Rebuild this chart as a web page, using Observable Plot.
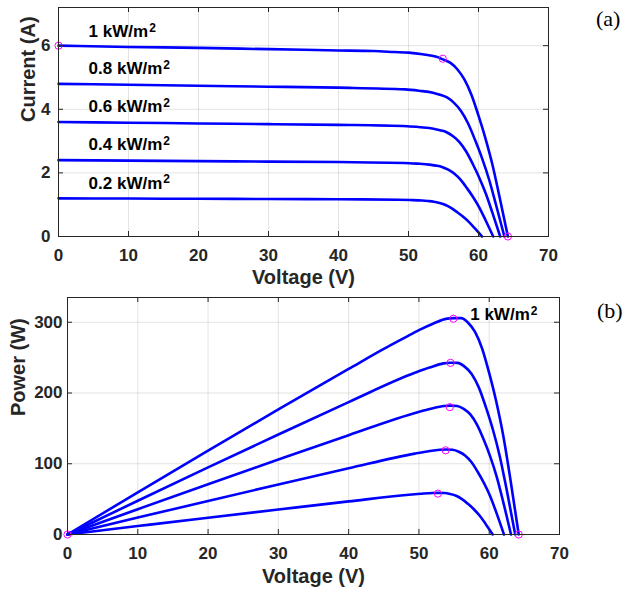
<!DOCTYPE html>
<html>
<head>
<meta charset="utf-8">
<script src="https://cdn.jsdelivr.net/npm/d3@7"></script>
<script src="https://cdn.jsdelivr.net/npm/@observablehq/plot@0.6"></script>
<style>
  body { margin: 0; background: #fff; }
  #wrap { position: relative; width: 641px; height: 597px; overflow: hidden; background: #fff; }
  #pa, #pb { position: absolute; left: 0; }
  #pa { top: 0; }
  #pb { top: 290px; }
  .tag { position: absolute; font-family: "Liberation Serif", "Times New Roman", serif; font-size: 22px; line-height: 1; color: #000; }
</style>
</head>
<body>
<div id="wrap">
  <div id="pa"></div>
  <div id="pb"></div>
  <div class="tag" style="left:596px; top:8px;">(a)</div>
  <div class="tag" style="left:597px; top:300px;">(b)</div>
</div>
<script>
// ---- data ----
const seriesNames = ["1 kW/m2", "0.8 kW/m2", "0.6 kW/m2", "0.4 kW/m2", "0.2 kW/m2"];

const v1000 = [0, 10, 20, 30, 40, 45, 48, 50, 52, 54, 55, 56, 57, 58, 59, 60, 61, 62, 63, 64.2];
const i1000 = [6.00, 5.96, 5.93, 5.89, 5.85, 5.83, 5.80, 5.78, 5.73, 5.65, 5.56, 5.46, 5.25, 4.93, 4.45, 3.80, 3.08, 2.25, 1.25, 0];
const p1000 = [0, 59.6, 118.6, 176.7, 234.0, 262.4, 278.4, 289.0, 298.0, 305.1, 305.8, 305.8, 299.3, 285.9, 262.6, 228.0, 187.9, 139.5, 78.8, 0];

const v800 = [0, 10, 20, 30, 40, 49.5, 51.5, 53.5, 54.5, 55.5, 56.5, 57.5, 58.5, 59.5, 60.5, 61.5, 62.5, 63.7];
const i800 = [4.80, 4.77, 4.74, 4.71, 4.68, 4.625, 4.583, 4.521, 4.455, 4.371, 4.200, 3.947, 3.560, 3.039, 2.465, 1.800, 0.999, 0];
const p800 = [0, 47.7, 94.8, 141.3, 187.2, 228.9, 236.0, 241.9, 242.8, 242.6, 237.3, 227.0, 208.3, 180.8, 149.1, 110.7, 62.4, 0];

const v600 = [0, 10, 20, 30, 40, 49.83, 51.70, 53.57, 54.50, 55.44, 56.37, 57.31, 58.24, 59.18, 60.11, 61.04, 61.98, 63.1];
const i600 = [3.60, 3.578, 3.555, 3.533, 3.511, 3.468, 3.437, 3.390, 3.342, 3.278, 3.150, 2.961, 2.671, 2.280, 1.850, 1.351, 0.751, 0];
const p600 = [0, 35.8, 71.1, 106.0, 140.4, 172.8, 177.7, 181.6, 182.1, 181.7, 177.6, 169.7, 155.6, 134.9, 111.2, 82.5, 46.5, 0];

const v400 = [0, 10, 20, 30, 40, 49.42, 51.21, 52.99, 53.89, 54.78, 55.67, 56.56, 57.46, 58.35, 59.24, 60.14, 61.03, 62.1];
const i400 = [2.40, 2.385, 2.370, 2.355, 2.340, 2.313, 2.292, 2.261, 2.229, 2.186, 2.101, 1.975, 1.782, 1.521, 1.234, 0.902, 0.502, 0];
const p400 = [0, 23.9, 47.4, 70.7, 93.6, 114.3, 117.4, 119.8, 120.1, 119.7, 117.0, 111.7, 102.4, 88.7, 73.1, 54.2, 30.6, 0];

const v200 = [0, 10, 20, 30, 40, 48.57, 50.25, 51.93, 52.77, 53.61, 54.45, 55.29, 56.13, 56.97, 57.81, 58.65, 59.49, 60.5];
const i200 = [1.20, 1.193, 1.185, 1.178, 1.170, 1.157, 1.147, 1.131, 1.115, 1.094, 1.051, 0.989, 0.892, 0.762, 0.618, 0.452, 0.252, 0];
const p200 = [0, 11.9, 23.7, 35.3, 46.8, 56.2, 57.6, 58.7, 58.8, 58.6, 57.2, 54.7, 50.1, 43.4, 35.7, 26.5, 15.0, 0];

// highlighted points (magenta circles)
const markAV = [0, 54.9, 64.2];
const markAI = [6.0, 5.59, 0];
const markBV = [0, 54.9, 54.5, 54.4, 53.8, 52.7, 64.2];
const markBP = [0, 305, 242.6, 180, 119, 57.8, 0];

// curve labels (data coordinates)
const labelAV = [4.3, 4.3, 4.3, 4.3, 4.3];
const labelAI = [6.45, 5.28, 4.08, 2.88, 1.68];
const labelBText = ["1 kW/m2"];
const labelBV = [57.3];
const labelBP = [311.5];

const xTicks = [0, 10, 20, 30, 40, 50, 60, 70];
const yTicksA = [0, 2, 4, 6];
const yTicksB = [0, 100, 200, 300];

// ---- tables ----
const vs = [v1000, v800, v600, v400, v200];
const is = [i1000, i800, i600, i400, i200];
const ps = [p1000, p800, p600, p400, p200];
const ivRows = [], pvRows = [];
seriesNames.forEach((s, k) => {
  vs[k].forEach((v, j) => {
    ivRows.push({series: s, V: v, I: is[k][j]});
    pvRows.push({series: s, V: v, P: ps[k][j]});
  });
});
const markA = markAV.map((v, j) => ({V: v, I: markAI[j]}));
const markB = markBV.map((v, j) => ({V: v, P: markBP[j]}));
const labA = seriesNames.map((s, j) => ({t: s, V: labelAV[j], I: labelAI[j]}));
const labB = labelBText.map((s, j) => ({t: s, V: labelBV[j], P: labelBP[j]}));

const FONT = "'Liberation Sans', Arial, Helvetica, sans-serif";
const AX = "#262626";
const BLUE = "#0000ff";
const MAG = "#ff00ff";

function panel({height, mt, mb, ml, mr, yDomain, yTicks, rows, yKey, marks, labels, yTitle, yTitleDx, xTitleDy, yPad}) {
  const innerW = 641 - ml - mr;
  const innerH = height - mt - mb;
  return Plot.plot({
    width: 641, height,
    marginTop: mt, marginBottom: mb, marginLeft: ml, marginRight: mr,
    style: {fontFamily: FONT, color: AX, background: "transparent", overflow: "visible"},
    x: {domain: [0, 70]},
    y: {domain: yDomain},
    marks: [
      Plot.gridX(xTicks, {stroke: AX, strokeOpacity: 0.13}),
      Plot.gridY(yTicks, {stroke: AX, strokeOpacity: 0.13}),
      Plot.line(rows, {x: "V", y: yKey, z: "series", stroke: BLUE, strokeWidth: 2.6, curve: "monotone-x"}),
      Plot.dot(marks, {x: "V", y: yKey, r: 3.6, stroke: MAG, strokeWidth: 1, fill: "none"}),
      Plot.text(labels, {x: "V", y: yKey, text: "t", textAnchor: "start", fontSize: 17, fontWeight: "bold", fill: "#000"}),
      Plot.frame({stroke: AX, strokeWidth: 1}),
      Plot.tickX(xTicks, {x: d => d, insetTop: innerH - 5, stroke: AX}),
      Plot.tickX(xTicks, {x: d => d, insetBottom: innerH - 5, stroke: AX}),
      Plot.tickY(yTicks, {y: d => d, insetRight: innerW - 5, stroke: AX}),
      Plot.tickY(yTicks, {y: d => d, insetLeft: innerW - 5, stroke: AX}),
      Plot.axisX(xTicks, {tickSize: 0, tickPadding: 12, fontSize: 17, fontWeight: "bold", label: null}),
      Plot.axisY(yTicks, {tickSize: 0, tickPadding: yPad, fontSize: 17, fontWeight: "bold", label: null}),
      Plot.text(["Voltage (V)"], {frameAnchor: "bottom", dy: xTitleDy, fontSize: 20, fontWeight: "bold", fill: AX}),
      Plot.text([yTitle], {frameAnchor: "left", dx: yTitleDx, rotate: -90, fontSize: 20, fontWeight: "bold", fill: AX})
    ]
  });
}

const plotA = panel({height: 290, mt: 7, mb: 54, ml: 58, mr: 93, yDomain: [0, 7.2], yTicks: yTicksA,
  rows: ivRows, yKey: "I", marks: markA, labels: labA, yTitle: "Current (A)", yTitleDx: -30, xTitleDy: 47, yPad: 8});
const plotB = panel({height: 307, mt: 7, mb: 63, ml: 67, mr: 82, yDomain: [0, 335], yTicks: yTicksB,
  rows: pvRows, yKey: "P", marks: markB, labels: labB, yTitle: "Power (W)", yTitleDx: -49, xTitleDy: 48, yPad: 5});

document.getElementById("pa").appendChild(plotA);
document.getElementById("pb").appendChild(plotB);

// superscript "2" in the unit labels
for (const svg of [plotA, plotB]) {
  svg.querySelectorAll("text").forEach(t => {
    if (t.children.length === 0 && /kW\/m2$/.test(t.textContent)) {
      const base = t.textContent.slice(0, -1);
      t.textContent = base;
      const sup = document.createElementNS("http://www.w3.org/2000/svg", "tspan");
      sup.setAttribute("dy", "-0.42em");
      sup.setAttribute("dx", "1");
      sup.setAttribute("font-size", "12");
      sup.textContent = "2";
      t.appendChild(sup);
    }
  });
}
</script>
</body>
</html>
